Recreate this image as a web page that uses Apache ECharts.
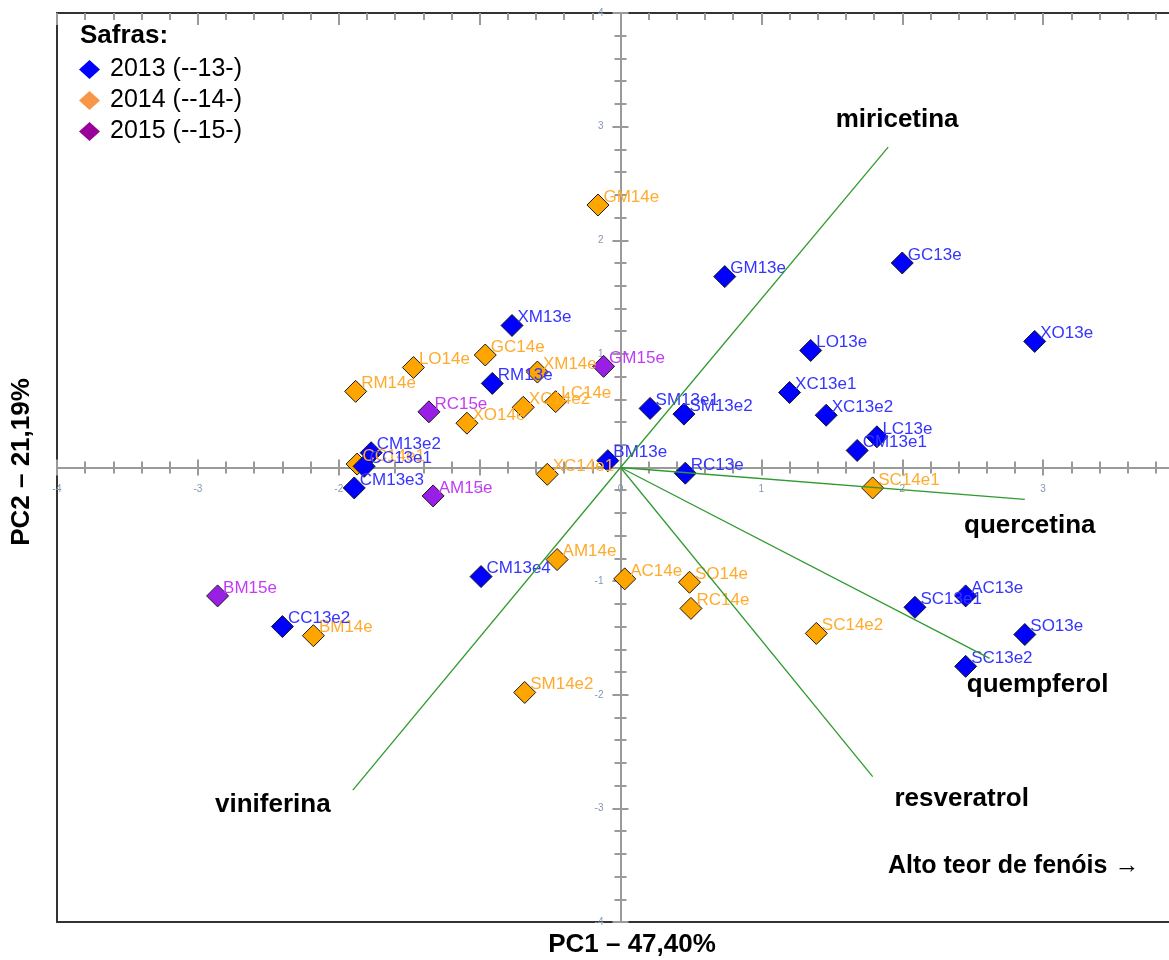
<!DOCTYPE html>
<html>
<head>
<meta charset="utf-8">
<title>PCA – Safras</title>
<script src="https://cdn.jsdelivr.net/npm/echarts@6/dist/echarts.min.js"></script>
<style>
  html, body { margin: 0; padding: 0; background: #ffffff; }
  #chart { width: 1169px; height: 960px; }
</style>
</head>
<body>
<div id="chart"></div>
<script>
// Scores on the first two principal components, one set per vintage
const names2013 = ['GC13e','GM13e','XO13e','LO13e','XM13e','RM13e','XC13e1','XC13e2','SM13e1','SM13e2','LC13e','CM13e1','BM13e','RC13e','CM13e2','CC13e1','CM13e3','CM13e4','CC13e2','AC13e','SC13e1','SO13e','SC13e2'];
const pc1_2013 = [2.00, 0.74, 2.94, 1.35, -0.77, -0.91, 1.20, 1.46, 0.21, 0.45, 1.82, 1.68, -0.09, 0.46, -1.77, -1.82, -1.89, -0.99, -2.40, 2.45, 2.09, 2.87, 2.45];
const pc2_2013 = [1.80, 1.68, 1.11, 1.03, 1.25, 0.74, 0.66, 0.46, 0.52, 0.47, 0.27, 0.15, 0.06, -0.05, 0.13, 0.01, -0.18, -0.96, -1.40, -1.13, -1.23, -1.47, -1.75];

const names2014 = ['GM14e','GC14e','LO14e','RM14e','XM14e','LC14e','XC14e2','XO14e','XC14e1','CC14e1','AM14e','AC14e','SO14e','RC14e','SC14e1','SC14e2','SM14e2','BM14e'];
const pc1_2014 = [-0.16, -0.96, -1.47, -1.88, -0.59, -0.46, -0.69, -1.09, -0.52, -1.87, -0.45, 0.03, 0.49, 0.50, 1.79, 1.39, -0.68, -2.18];
const pc2_2014 = [2.31, 0.99, 0.88, 0.67, 0.84, 0.58, 0.53, 0.39, -0.06, 0.03, -0.81, -0.98, -1.01, -1.24, -0.18, -1.46, -1.98, -1.48];

const names2015 = ['GM15e','RC15e','AM15e','BM15e'];
const pc1_2015 = [-0.12, -1.36, -1.33, -2.86];
const pc2_2015 = [0.89, 0.49, -0.25, -1.13];

// Loadings of the phenolic compounds
const loadNames = ['miricetina','quercetina','quempferol','resveratrol','viniferina'];
const load1 = [1.90, 2.87, 2.62, 1.79, -1.90];
const load2 = [2.82, -0.28, -1.68, -2.72, -2.84];

// Legend entries
const vintageNames = ['2013 (--13-)', '2014 (--14-)', '2015 (--15-)'];

// Axis range and tick step
const axisMin = -4, axisMax = 4, axisStep = 1;

// Loading label placement (pixels from the arrow tip)
const loadLabelOffsets = [[9, -27], [5, 27], [48, 26], [89, 22], [-80, 15]];

const FONT = '"Liberation Sans", Arial, sans-serif';
const AXIS_GREY = '#9a9a9a';

// Plot area in pixels
const CHART_W = 1169, CHART_H = 960;
const GRID = { left: 57, top: 13, right: -15, bottom: 38 };
const gridW = CHART_W - GRID.left - GRID.right;
const gridH = CHART_H - GRID.top - GRID.bottom;
// The two axes cross at the origin: shift them in from the frame edges
const zeroFrac = (0 - axisMin) / (axisMax - axisMin);
const xAxisShift = -gridH * zeroFrac;
const yAxisShift = -gridW * zeroFrac;

function zip(xs, ys, ns) {
  return ns.map((n, i) => [xs[i], ys[i], n]);
}

function scoreSeries(name, data, fill, textColor) {
  return {
    type: 'scatter',
    name: name,
    symbol: 'diamond',
    symbolSize: 22,
    data: data,
    itemStyle: { color: fill, borderColor: '#1a1a1a', borderWidth: 1, opacity: 1 },
    label: {
      show: true,
      position: 'right',
      distance: 0,
      offset: [-6, -8],
      formatter: p => p.data[2],
      color: textColor,
      fontSize: 17,
      fontFamily: FONT
    },
    emphasis: { disabled: true },
    z: 2
  };
}

function valueAxis(extra) {
  const base = {
    type: 'value',
    min: axisMin,
    max: axisMax,
    interval: axisStep,
    splitLine: { show: false },
    axisLine: { show: true, onZero: false, lineStyle: { color: AXIS_GREY, width: 2 } },
    axisTick: { show: true, inside: false, length: 8, lineStyle: { color: AXIS_GREY, width: 2 } },
    minorTick: { show: true, splitNumber: 5, length: 6, lineStyle: { color: AXIS_GREY, width: 2 } },
    axisLabel: { show: false }
  };
  return Object.assign(base, extra);
}

const tickLabel = {
  show: true,
  fontSize: 10,
  color: '#8496b0',
  fontFamily: FONT
};

const chart = echarts.init(document.getElementById('chart'), null, { renderer: 'canvas' });

chart.setOption({
  animation: false,
  backgroundColor: '#ffffff',
  grid: {
    left: GRID.left, top: GRID.top, right: GRID.right, bottom: GRID.bottom,
    show: true, borderColor: '#333333', borderWidth: 2,
    backgroundColor: 'transparent',
    outerBoundsMode: 'none',
    containLabel: false
  },
  xAxis: [
    valueAxis({
      position: 'bottom',
      offset: xAxisShift,
      axisLabel: Object.assign({}, tickLabel, {
        margin: 17,
        formatter: v => (v === axisMax ? '' : String(v))
      })
    }),
    valueAxis({
      position: 'bottom',
      offset: xAxisShift,
      axisLine: { show: false, onZero: false },
      axisTick: { show: true, inside: true, length: 8, lineStyle: { color: AXIS_GREY, width: 2 } }
    }),
    valueAxis({
      position: 'top',
      axisLine: { show: true, onZero: false, lineStyle: { color: '#333333', width: 2 } },
      axisTick: { show: true, inside: true, length: 12, lineStyle: { color: AXIS_GREY, width: 2 } },
      minorTick: { show: true, splitNumber: 5, length: 7, lineStyle: { color: AXIS_GREY, width: 2 } }
    })
  ],
  yAxis: [
    valueAxis({
      position: 'left',
      offset: yAxisShift,
      axisLabel: Object.assign({}, tickLabel, {
        margin: 17,
        formatter: v => (v === 0 ? '' : String(v))
      })
    }),
    valueAxis({
      position: 'left',
      offset: yAxisShift,
      axisLine: { show: false, onZero: false },
      axisTick: { show: true, inside: true, length: 8, lineStyle: { color: AXIS_GREY, width: 2 } }
    })
  ],
  legend: {
    orient: 'vertical',
    left: 74,
    top: 52,
    itemWidth: 21,
    itemHeight: 19,
    itemGap: 6,
    icon: 'diamond',
    selectedMode: false,
    textStyle: { fontSize: 25, color: '#000000', fontFamily: FONT, padding: [0, 0, 0, 5] },
    data: [
      { name: vintageNames[0], itemStyle: { color: '#0000ff', borderWidth: 0 } },
      { name: vintageNames[1], itemStyle: { color: '#f79646', borderWidth: 0 } },
      { name: vintageNames[2], itemStyle: { color: '#990099', borderWidth: 0 } }
    ]
  },
  graphic: [
    {
      type: 'text', x: 80, y: 36, silent: true,
      style: { text: 'Safras:', fontSize: 26, fontWeight: 'bold', fontFamily: FONT, fill: '#000', align: 'left', verticalAlign: 'middle' }
    },
    {
      type: 'text', x: 632, y: 945, silent: true,
      style: { text: 'PC1 – 47,40%', fontSize: 26, fontWeight: 'bold', fontFamily: FONT, fill: '#000', align: 'center', verticalAlign: 'middle' }
    },
    {
      type: 'text', x: 22, y: 462, rotation: Math.PI / 2, silent: true,
      style: { text: 'PC2 – 21,19%', fontSize: 26, fontWeight: 'bold', fontFamily: FONT, fill: '#000', align: 'center', verticalAlign: 'middle' }
    },
    {
      type: 'text', x: 888, y: 866, silent: true,
      style: { text: 'Alto teor de fenóis →', fontSize: 25, fontWeight: 'bold', fontFamily: FONT, fill: '#000', align: 'left', verticalAlign: 'middle' }
    }
  ],
  series: [
    scoreSeries(vintageNames[1], zip(pc1_2014, pc2_2014, names2014), '#ffa500', '#ffab2e'),
    scoreSeries(vintageNames[2], zip(pc1_2015, pc2_2015, names2015), '#9a1fe6', '#c23cf5'),
    scoreSeries(vintageNames[0], zip(pc1_2013, pc2_2013, names2013), '#0000ff', '#3535ff'),
    {
      type: 'lines',
      name: 'loadings',
      coordinateSystem: 'cartesian2d',
      silent: true,
      z: 3,
      lineStyle: { color: '#2f9a2f', width: 1.3, opacity: 1, curveness: 0 },
      data: loadNames.map((n, i) => ({ name: n, coords: [[0, 0], [load1[i], load2[i]]] }))
    },
    {
      type: 'scatter',
      name: 'loadingLabels',
      silent: true,
      symbolSize: 0.1,
      itemStyle: { color: 'transparent', opacity: 1 },
      z: 4,
      label: {
        show: true,
        position: 'inside',
        formatter: p => p.data.value[2],
        color: '#000000',
        opacity: 1,
        fontSize: 26,
        fontWeight: 'bold',
        fontFamily: FONT
      },
      data: loadNames.map((n, i) => ({
        value: [load1[i], load2[i], n],
        label: { offset: loadLabelOffsets[i] }
      }))
    }
  ]
});
</script>
</body>
</html>
